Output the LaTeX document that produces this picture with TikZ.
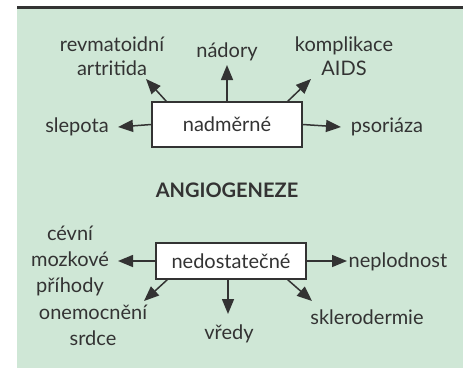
\documentclass[tikz,border=0pt]{standalone}
\usepackage{fontspec}
\setmainfont{Lato}
\usetikzlibrary{arrows.meta, positioning}
\definecolor{panelgreen}{RGB}{207,231,214}
\definecolor{inkgray}{RGB}{51,51,51}

\begin{document}
\begin{tikzpicture}[x=1pt, y=-1pt,
    every node/.style={text=inkgray, font=\fontsize{20}{24}\selectfont},
    item/.style={align=center, inner sep=0pt},
    box/.style={draw=inkgray, line width=1.6pt, fill=white, minimum width=150pt, inner sep=0pt},
    arr/.style={draw=inkgray, line width=1.5pt, -{Triangle[length=15pt, width=12pt]}}]
        % Panel
        \useasboundingbox (0,0) rectangle (470,369);
        \fill[panelgreen] (17,9) rectangle (463,368);
        \draw[inkgray, line width=3pt] (17,7.5) -- (463,7.5);
        % Boxes
        \node[box, minimum height=45pt] (over) at (227,124.5) {nadměrné};
        \node[box, minimum height=36pt] (under) at (231,261) {nedostatečné};
        \node[font=\fontsize{20}{24}\selectfont\bfseries] (title) at (227,190) {ANGIOGENEZE};
        % Top labels
        \node[item] (revma) at (112,56) {revmatoidní\\artritida};
        \node[item] (nadory) at (227,52) {nádory};
        \node[item] (aids) at (344,56) {komplikace\\AIDS};
        \node[item] (slepota) at (77,127) {slepota};
        \node[item] (psoriaza) at (387,127) {psoriáza};
        % Bottom labels
        \node[item, font=\fontsize{20}{26}\selectfont] (cevni) at (70,261) {cévní\\mozkové\\příhody};
        \node[item] (neplod) at (398,262) {neplodnost};
        \node[item, font=\fontsize{20}{26}\selectfont] (srdce) at (93,325) {onemocnění\\srdce};
        \node[item] (vredy) at (229,334) {vředy};
        \node[item] (sklero) at (367,317) {sklerodermie};
        % Arrow tips
        \coordinate (t1) at (146,79);
        \coordinate (t2) at (227,65);
        \coordinate (t3) at (311,79);
        \coordinate (t4) at (144,301);
        \coordinate (t5) at (228,314);
        \coordinate (t6) at (312,301);
        % Arrows
        \draw[arr] (over.west) -- (slepota.east -| 118,0);
        \draw[arr] (over.east) -- (psoriaza.west -| 341,0);
        \draw[arr] ([xshift=15pt]over.north west) -- (t1);
        \draw[arr] (over.north) -- (t2);
        \draw[arr] ([xshift=-15pt]over.north east) -- (t3);
        \draw[arr] (under.west) -- (118,261);
        \draw[arr] (under.east) -- (347,261);
        \draw[arr] ([xshift=12pt]under.south west) -- (t4);
        \draw[arr] ([xshift=-3pt]under.south) -- (t5);
        \draw[arr] ([xshift=-19pt]under.south east) -- (t6);
    \end{tikzpicture}
\end{document}
